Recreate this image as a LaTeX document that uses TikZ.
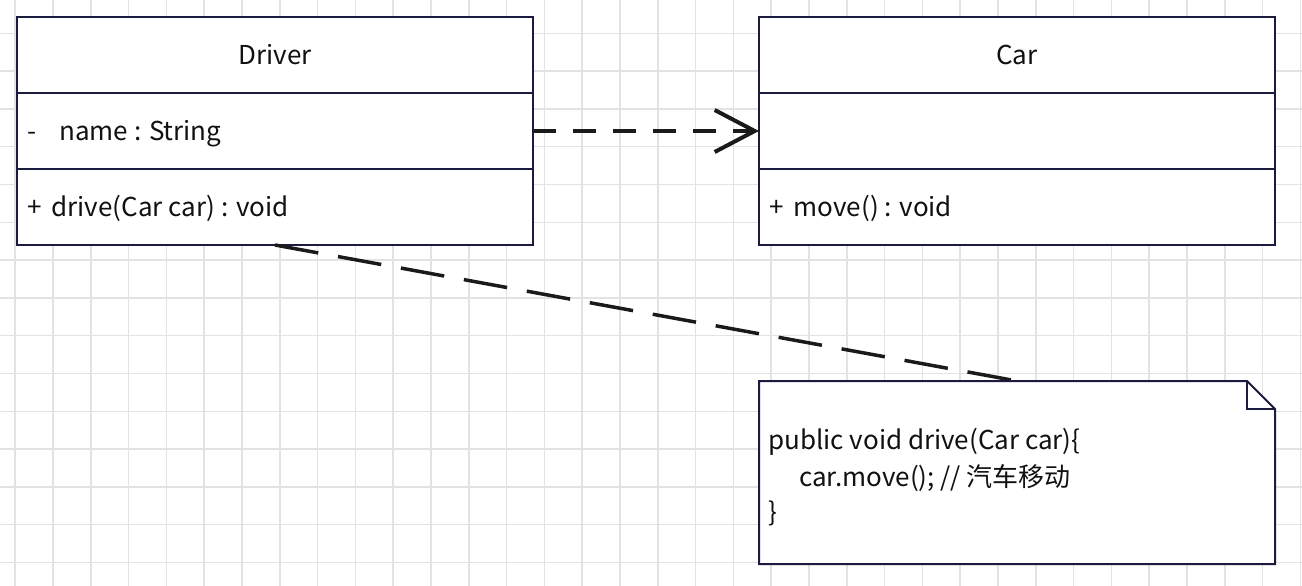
\documentclass[tikz,border=0pt]{standalone}
\usepackage{fontspec}
\setmainfont{Noto Sans CJK SC}
\usetikzlibrary{arrows.meta,calc}
\definecolor{gridc}{HTML}{E3E3E3}
\definecolor{boxc}{HTML}{1B1B3F}
\definecolor{linec}{HTML}{1A1A1A}
\definecolor{txtc}{HTML}{111111}
\begin{document}
\begin{tikzpicture}[x=1pt,y=-1pt,
  comp/.style={draw=boxc,line width=2pt,fill=white,minimum width=516pt,minimum height=76pt,inner sep=0pt,outer sep=0pt},
  lbl/.style={font=\fontsize{26}{32}\selectfont,text=txtc,inner sep=0pt},
  dep/.style={draw=linec,line width=4pt,dash pattern=on 23pt off 17pt,-{Straight Barb[length=40pt,width=42pt,line width=4pt]}},
  anchorline/.style={draw=linec,line width=3.5pt,dash pattern=on 44pt off 20pt}]
\fill[white] (0,0) rectangle (1302,586);
\useasboundingbox (0,0) rectangle (1302,586);
% grid
\foreach \i in {0,...,34} {\draw[gridc,line width=1.5pt] ({15.2+37.8*\i},0) -- ({15.2+37.8*\i},586);}
\foreach \j in {1,...,15} {\draw[gridc,line width=1.5pt] (0,{-4.5+37.8*\j}) -- (1302,{-4.5+37.8*\j});}
% Driver
\node[comp] (dh) at (275,55) {};
\node[comp] (da) at (275,131) {};
\node[comp] (dm) at (275,207) {};
\node[lbl,anchor=base] (dname) at (275,65) {Driver};
\node[lbl,anchor=base west] (dattr) at (27,140) {-\hspace*{23pt}name : String};
\node[lbl,anchor=base west] (dmeth) at (27,216) {+\hspace*{10pt}drive(Car car) : void};
% Car
\node[comp] (ch) at (1017,55) {};
\node[comp] (ca) at (1017,131) {};
\node[comp] (cm) at (1017,207) {};
\node[lbl,anchor=base] (cname) at (1017,65) {Car};
\node[lbl,anchor=base west] (cmeth) at (769,216) {+\hspace*{10pt}move() : void};
% Note
\node[minimum width=516pt,minimum height=183pt,inner sep=0pt,outer sep=0pt] (note) at (1017,472.5) {};
\draw[boxc,line width=2pt,fill=white,line join=miter]
  (note.north west) -- ($(note.north east)+(-28,0)$) -- ($(note.north east)+(0,28)$)
  -- (note.south east) -- (note.south west) -- cycle;
\draw[boxc,line width=2pt] ($(note.north east)+(-28,0)$) -- ($(note.north east)+(-28,28)$) -- ($(note.north east)+(0,28)$);
\node[lbl,anchor=base west] (nl1) at (768,449) {public void drive(Car car)\{};
\node[lbl,anchor=base west] (nl2) at (799,486) {car.move(); // 汽车移动};
\node[lbl,anchor=base west] (nl3) at (768,521) {\}};
% connectors
\draw[dep] (da.east) -- (ca.west);
\draw[anchorline] (dm.south) -- (note.north);
\end{tikzpicture}
\end{document}
